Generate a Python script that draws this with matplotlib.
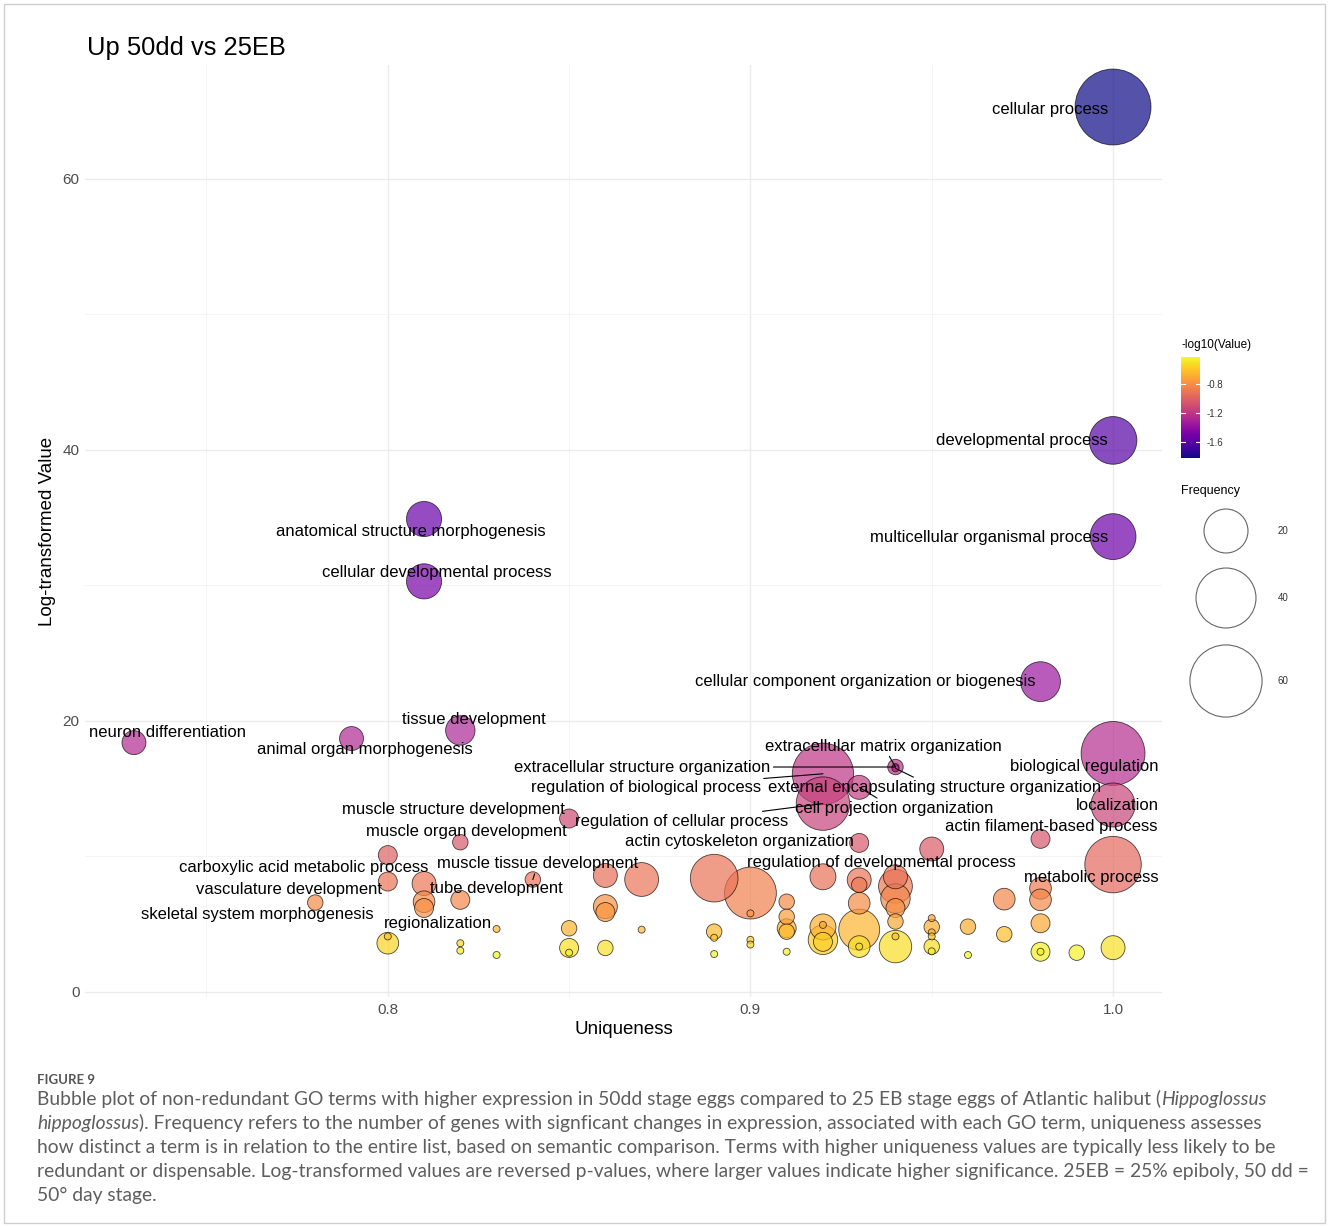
import matplotlib
matplotlib.use('Agg')
import matplotlib.pyplot as plt
import matplotlib.cm as cm
import numpy as np
from matplotlib.colors import Normalize
from matplotlib.patches import Rectangle
from matplotlib.ticker import FormatStrFormatter

plt.rcParams['font.family'] = ['Liberation Sans', 'DejaVu Sans']
plt.rcParams['axes.unicode_minus'] = False

# GO terms ('' = term not labelled in the chart)
terms = [
    'cellular process', 'developmental process', 'multicellular organismal process',
    'biological regulation', 'localization', 'metabolic process', '',
    'cellular component organization or biogenesis', 'actin filament-based process', '', '', '', '', '',
    '',
    '', '',
    '', '',
    '', '', '', '', '', '', '',
    'extracellular matrix organization', 'extracellular structure organization',
    'external encapsulating structure organization', '', '', '', '', '', '', '',
    'cell projection organization', 'actin cytoskeleton organization', '', '', '', '', '', '',
    'regulation of biological process', 'regulation of cellular process',
    'regulation of developmental process', '', '', '', '',
    '', '', '', '', '',
    '', '', '', '',
    '', '', '', '',
    '', '',
    '', '', '', '',
    'muscle structure development', '', '', '',
    'muscle tissue development',
    'regionalization', '',
    'tissue development', 'muscle organ development', 'tube development', '', '',
    'anatomical structure morphogenesis', 'cellular developmental process', '', '', '',
    'carboxylic acid metabolic process', 'vasculature development', '', '',
    'animal organ morphogenesis',
    'skeletal system morphogenesis',
    'neuron differentiation',
]
uniqueness = [
    1.00, 1.00, 1.00, 1.00, 1.00, 1.00, 1.00,
    0.98, 0.98, 0.98, 0.98, 0.98, 0.98, 0.98,
    0.99,
    0.97, 0.97,
    0.96, 0.96,
    0.95, 0.95, 0.95, 0.95, 0.95, 0.95, 0.95,
    0.94, 0.94, 0.94, 0.94, 0.94, 0.94, 0.94, 0.94, 0.94, 0.94,
    0.93, 0.93, 0.93, 0.93, 0.93, 0.93, 0.93, 0.93,
    0.92, 0.92, 0.92, 0.92, 0.92, 0.92, 0.92,
    0.91, 0.91, 0.91, 0.91, 0.91,
    0.90, 0.90, 0.90, 0.90,
    0.89, 0.89, 0.89, 0.89,
    0.87, 0.87,
    0.86, 0.86, 0.86, 0.86,
    0.85, 0.85, 0.85, 0.85,
    0.84,
    0.83, 0.83,
    0.82, 0.82, 0.82, 0.82, 0.82,
    0.81, 0.81, 0.81, 0.81, 0.81,
    0.80, 0.80, 0.80, 0.80,
    0.79,
    0.78,
    0.73,
]
log_value = [
    65.3, 40.7, 33.6, 17.6, 13.8, 9.4, 3.27,
    22.9, 11.3, 7.65, 6.8, 5.07, 2.97, 2.97,
    2.9,
    6.85, 4.26,
    4.82, 2.73,
    10.55, 5.45, 4.8, 4.4, 4.1, 3.35, 3.0,
    16.6, 16.6, 16.5, 8.5, 7.8, 6.9, 6.2, 5.2, 4.1, 3.35,
    15.1, 11.0, 8.27, 7.9, 6.55, 4.6, 3.35, 3.35,
    16.1, 13.9, 8.5, 4.8, 4.95, 3.85, 3.7,
    6.66, 5.55, 4.7, 4.45, 2.97,
    7.3, 5.8, 3.85, 3.5,
    8.4, 4.45, 4.0, 2.8,
    8.3, 4.6,
    8.6, 6.3, 5.9, 3.25,
    12.8, 4.7, 3.25, 2.9,
    8.3,
    4.65, 2.73,
    19.3, 11.05, 6.8, 3.6, 3.05,
    34.9, 30.3, 8.0, 6.66, 6.2,
    10.1, 8.15, 4.1, 3.6,
    18.7,
    6.6,
    18.4,
]
frequency = [
    67, 24, 22, 46, 20, 35, 5,
    16, 3, 4, 4, 3, 3, 1,
    2,
    4, 2,
    2, 1,
    5, 1, 2, 1, 1, 2, 1,
    2, 1, 1, 5, 11, 8, 3, 2, 1, 10,
    5, 3, 5, 2, 4, 17, 4, 1,
    42, 31, 6, 6, 1, 8, 3,
    2, 2, 3, 2, 1,
    29, 1, 1, 1,
    24, 2, 1, 1,
    11, 1,
    5, 5, 3, 2,
    3, 2, 3, 1,
    2,
    1, 1,
    8, 2, 3, 1, 1,
    12, 12, 5, 4, 3,
    3, 3, 1, 4,
    5,
    2,
    5,
]

# label placement (offset of label centre from its bubble, in pixels)
label_offset = {
    'cellular process': (-63, -2),
    'developmental process': (-91, 0),
    'multicellular organismal process': (-124, -1),
    'cellular component organization or biogenesis': (-175, 0),
    'anatomical structure morphogenesis': (-13, -12),
    'cellular developmental process': (13, 9),
    'tissue development': (14, 11),
    'animal organ morphogenesis': (13, -11),
    'neuron differentiation': (34, 10),
    'extracellular matrix organization': (-12, 21),
    'extracellular structure organization': (-253, 0),
    'regulation of biological process': (-177, -14),
    'external encapsulating structure organization': (39, -19),
    'biological regulation': (-29, -13),
    'cell projection organization': (35, -21),
    'localization': (4, -1),
    'muscle structure development': (-116, 9),
    'regulation of cellular process': (-141, -18),
    'muscle organ development': (6, 11),
    'actin filament-based process': (11, 12),
    'actin cytoskeleton organization': (-120, 1),
    'carboxylic acid metabolic process': (-84, -12),
    'muscle tissue development': (5, 16),
    'regulation of developmental process': (58, 14),
    'metabolic process': (-22, -13),
    'vasculature development': (-99, -8),
    'tube development': (36, 11),
    'skeletal system morphogenesis': (-58, -12),
    'regionalization': (-59, 5),
}
leader_terms = {'extracellular matrix organization', 'extracellular structure organization',
                'regulation of biological process', 'external encapsulating structure organization',
                'cell projection organization', 'regulation of cellular process',
                'muscle tissue development'}

W, H = 1328, 1227


def fx(px):
    return px / W


def fy(py):
    return 1 - py / H


def bubble_area(freq):
    # radius in pixels grows with sqrt of frequency (like ggplot's scale_size)
    r_px = 3.5 + 4.24 * np.sqrt(np.asarray(freq, dtype=float) - 1)
    return (2 * r_px * 0.72) ** 2


fig = plt.figure(figsize=(W / 100, H / 100), dpi=100)
ax = fig.add_axes([fx(85), fy(997), (1162 - 85) / W, (997 - 65) / H])

u = np.array(uniqueness)
v = np.array(log_value)
f = np.array(frequency)
colour_val = -np.log10(v)
norm = Normalize(colour_val.min(), colour_val.max())
cmap = plt.get_cmap('plasma')

order = np.argsort(-f, kind='stable')
ax.scatter(u[order], v[order], s=bubble_area(f[order]), c=colour_val[order], cmap=cmap, norm=norm,
           alpha=0.7, edgecolors='black', linewidths=0.6, zorder=3)

for term, x, y in zip(terms, uniqueness, log_value):
    if not term:
        continue
    ap = None
    if term in leader_terms:
        ap = dict(arrowstyle='-', color='black', lw=0.8, shrinkA=0, shrinkB=0)
    ax.annotate(term, (x, y), xytext=label_offset[term], textcoords='offset pixels',
                ha='center', va='center', fontsize=12, color='black', arrowprops=ap, zorder=5)

ax.set_xlim(0.7165, 1.0135)
ax.set_ylim(-0.37, 68.4)
ax.set_xticks([0.8, 0.9, 1.0])
ax.set_xticks([0.75, 0.85, 0.95], minor=True)
ax.set_yticks([0, 20, 40, 60])
ax.set_yticks([10, 30, 50], minor=True)
ax.xaxis.set_major_formatter(FormatStrFormatter('%.1f'))
ax.grid(which='major', color='#EBEBEB', lw=1.0)
ax.grid(which='minor', color='#F2F2F2', lw=0.6)
ax.set_axisbelow(True)
ax.tick_params(which='both', length=0)
ax.tick_params(labelsize=11, labelcolor='#4D4D4D', pad=4)
for s in ax.spines.values():
    s.set_visible(False)

fig.text(fx(87), fy(48), 'Up 50dd vs 25EB', fontsize=18.4, ha='left', va='center')
fig.text(fx(624), fy(1030), 'Uniqueness', fontsize=13.5, ha='center', va='center')
fig.text(fx(47), fy(531), 'Log-transformed Value', fontsize=13.5, ha='center', va='center',
         rotation=90)

# colour legend
cax = fig.add_axes([fx(1181), fy(458), 19 / W, 101 / H])
cb = fig.colorbar(cm.ScalarMappable(norm=norm, cmap=cmap), cax=cax, ticks=[-0.8, -1.2, -1.6])
cb.outline.set_visible(False)
cax.tick_params(length=0, labelsize=7, pad=5, labelcolor='#333333')
for t in [-0.8, -1.2, -1.6]:
    cax.axhline(t, xmin=0, xmax=0.2, color='white', lw=0.8)
    cax.axhline(t, xmin=0.8, xmax=1, color='white', lw=0.8)
fig.text(fx(1181), fy(345), '-log10(Value)', fontsize=8.5, ha='left', va='center')

# size legend
fig.text(fx(1181), fy(491), 'Frequency', fontsize=9, ha='left', va='center')
lax = fig.add_axes([fx(1170), fy(740), 150 / W, 240 / H])
lax.set_xlim(1170, 1320)
lax.set_ylim(740, 500)
lax.axis('off')
legend_freq = [20, 40, 60]
legend_y = [531, 598, 681]
lax.scatter([1226] * 3, legend_y, s=bubble_area(legend_freq), facecolors='white',
            edgecolors='#666666', linewidths=0.8)
for val, ly in zip(legend_freq, legend_y):
    lax.text(1278, ly, str(val), fontsize=7, va='center', ha='left', color='#333333')

# caption
cap = dict(family=['Lato', 'DejaVu Sans'], color='#5e5e5e', fontsize=13.9)
fig.text(fx(37), fy(1080), 'FIGURE 9', family=['Lato', 'DejaVu Sans'], color='#555555',
         fontsize=9.5, weight='bold', va='center', ha='left')
caption = [
    [('Bubble plot of non-redundant GO terms with higher expression in 50dd stage eggs compared '
      'to 25 EB stage eggs of Atlantic halibut (', 'normal'), ('Hippoglossus', 'italic')],
    [('hippoglossus', 'italic'),
     ('). Frequency refers to the number of genes with signficant changes in expression, '
      'associated with each GO term, uniqueness assesses', 'normal')],
    [('how distinct a term is in relation to the entire list, based on semantic comparison. '
      'Terms with higher uniqueness values are typically less likely to be', 'normal')],
    [('redundant or dispensable. Log-transformed values are reversed p-values, where larger '
      'values indicate higher significance. 25EB = 25% epiboly, 50 dd =', 'normal')],
    [('50\u00b0 day stage.', 'normal')],
]
renderer = fig.canvas.get_renderer()
for i, parts in enumerate(caption):
    x = 37
    for txt, style in parts:
        t = fig.text(fx(x), fy(1099 + 24 * i), txt, fontstyle=style, ha='left', va='center', **cap)
        x += t.get_window_extent(renderer).width

fig.patches.append(Rectangle((fx(4), fy(1223)), (1325 - 4) / W, (1223 - 4) / H,
                             transform=fig.transFigure, fill=False, edgecolor='#CFCFCF', lw=1))

fig.savefig('out.png', dpi=100)
